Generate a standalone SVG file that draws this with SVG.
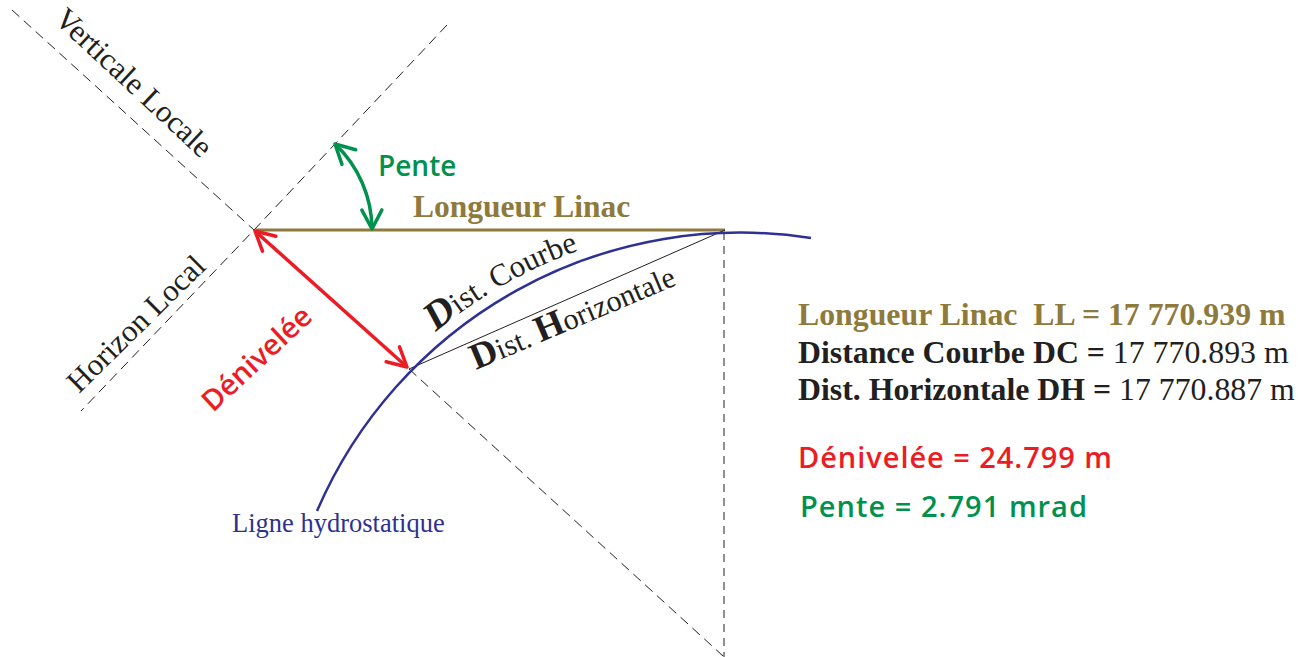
<svg xmlns="http://www.w3.org/2000/svg" width="1312" height="657" viewBox="0 0 1312 657">
<style>
.dash{fill:none;stroke:#231F20;stroke-width:1;stroke-dasharray:10 6}
.serif{font-family:"Liberation Serif","Times New Roman",serif}
.sans{font-family:"Open Sans","Noto Sans",sans-serif;font-weight:600}
.blk{fill:#231F20}
.olive{fill:#8E7A3C}
.red{fill:#ED1C24}
.green{fill:#00914F}
.blue{fill:#2E3192}
</style>
<defs>
<marker id="ahRed" markerUnits="userSpaceOnUse" viewBox="-24 -14 28 28" markerWidth="28" markerHeight="28" refX="0" refY="0" orient="auto-start-reverse" overflow="visible">
<path d="M-19,-10 L0,0 L-19,10" fill="none" stroke="#ED1C24" stroke-width="3.5" stroke-linecap="round" stroke-linejoin="round"/>
</marker>
<marker id="ahGreen" markerUnits="userSpaceOnUse" viewBox="-24 -14 28 28" markerWidth="28" markerHeight="28" refX="0" refY="0" orient="auto-start-reverse" overflow="visible">
<path d="M-19,-10 L0,0 L-19,10" fill="none" stroke="#00914F" stroke-width="3.5" stroke-linecap="round" stroke-linejoin="round"/>
</marker>
<path id="pCourbe" d="M 436 332 A 470 470 0 0 1 737 223"/>
</defs>
<rect width="1312" height="657" fill="#FFFFFF"/>

<g id="connectors">
<line class="dash" x1="12" y1="10" x2="254" y2="230"/>
<line class="dash" x1="409" y1="369" x2="723" y2="656"/>
<polyline class="dash" points="447,25 254,230 81,411"/>
<line class="dash" x1="724" y1="232" x2="724" y2="657" style="stroke-dasharray:8 6"/>
<line x1="256" y1="230" x2="725" y2="230" stroke="#8E7A3C" stroke-width="3"/>
<line x1="409" y1="369" x2="725" y2="230" stroke="#231F20" stroke-width="1"/>
<path d="M 317 511 A 461 461 0 0 1 811 238" fill="none" stroke="#2E3192" stroke-width="2.5"/>
<line x1="255" y1="231" x2="407" y2="367" stroke="#ED1C24" stroke-width="3.5" marker-start="url(#ahRed)" marker-end="url(#ahRed)"/>
<path d="M 372 229 A 118 118 0 0 0 335 144" fill="none" stroke="#00914F" stroke-width="3.5" marker-start="url(#ahGreen)" marker-end="url(#ahGreen)"/>
</g>

<g id="verticale-locale"><text class="serif blk" font-size="31" transform="translate(53,21) rotate(43)">Verticale Locale</text></g>
<g id="horizon-local"><text class="serif blk" font-size="31" transform="translate(79,394) rotate(-44.5)">Horizon Local</text></g>
<g id="pente-label"><text class="sans green" font-size="28" x="378" y="176">Pente</text></g>
<g id="longueur-label"><text class="serif olive" font-size="31.5" font-weight="bold" x="413" y="217">Longueur Linac</text></g>
<g id="denivelee-label"><text class="sans red" font-size="29" transform="translate(213,413) rotate(-43)">Dénivelée</text></g>
<g id="dist-courbe"><text class="serif blk" font-size="31"><textPath href="#pCourbe"><tspan font-size="40" font-weight="bold" font-style="italic">D</tspan>ist. Courbe</textPath></text></g>
<g id="dist-horizontale"><text class="serif blk" font-size="30" transform="translate(476,370) rotate(-23)"><tspan font-size="37" font-weight="bold">D</tspan>ist. <tspan font-size="37" font-weight="bold">H</tspan>orizontale</text></g>
<g id="ligne-hydro"><text class="serif blue" font-size="26.5" x="232" y="532">Ligne hydrostatique</text></g>

<g id="results">
<text class="serif olive" font-size="31.8" font-weight="bold" x="798" y="325" xml:space="preserve">Longueur Linac  LL = 17 770.939 m</text>
<text class="serif blk" font-size="31.8" x="798" y="363"><tspan font-weight="bold">Distance Courbe DC =</tspan> 17 770.893 m</text>
<text class="serif blk" font-size="31.8" x="798" y="400"><tspan font-weight="bold">Dist. Horizontale DH =</tspan> 17 770.887 m</text>
<text class="sans red" font-size="29" x="798" y="468" textLength="314" lengthAdjust="spacing">Dénivelée = 24.799 m</text>
<text class="sans green" font-size="29" x="800" y="517" textLength="287" lengthAdjust="spacing">Pente = 2.791 mrad</text>
</g>
</svg>
